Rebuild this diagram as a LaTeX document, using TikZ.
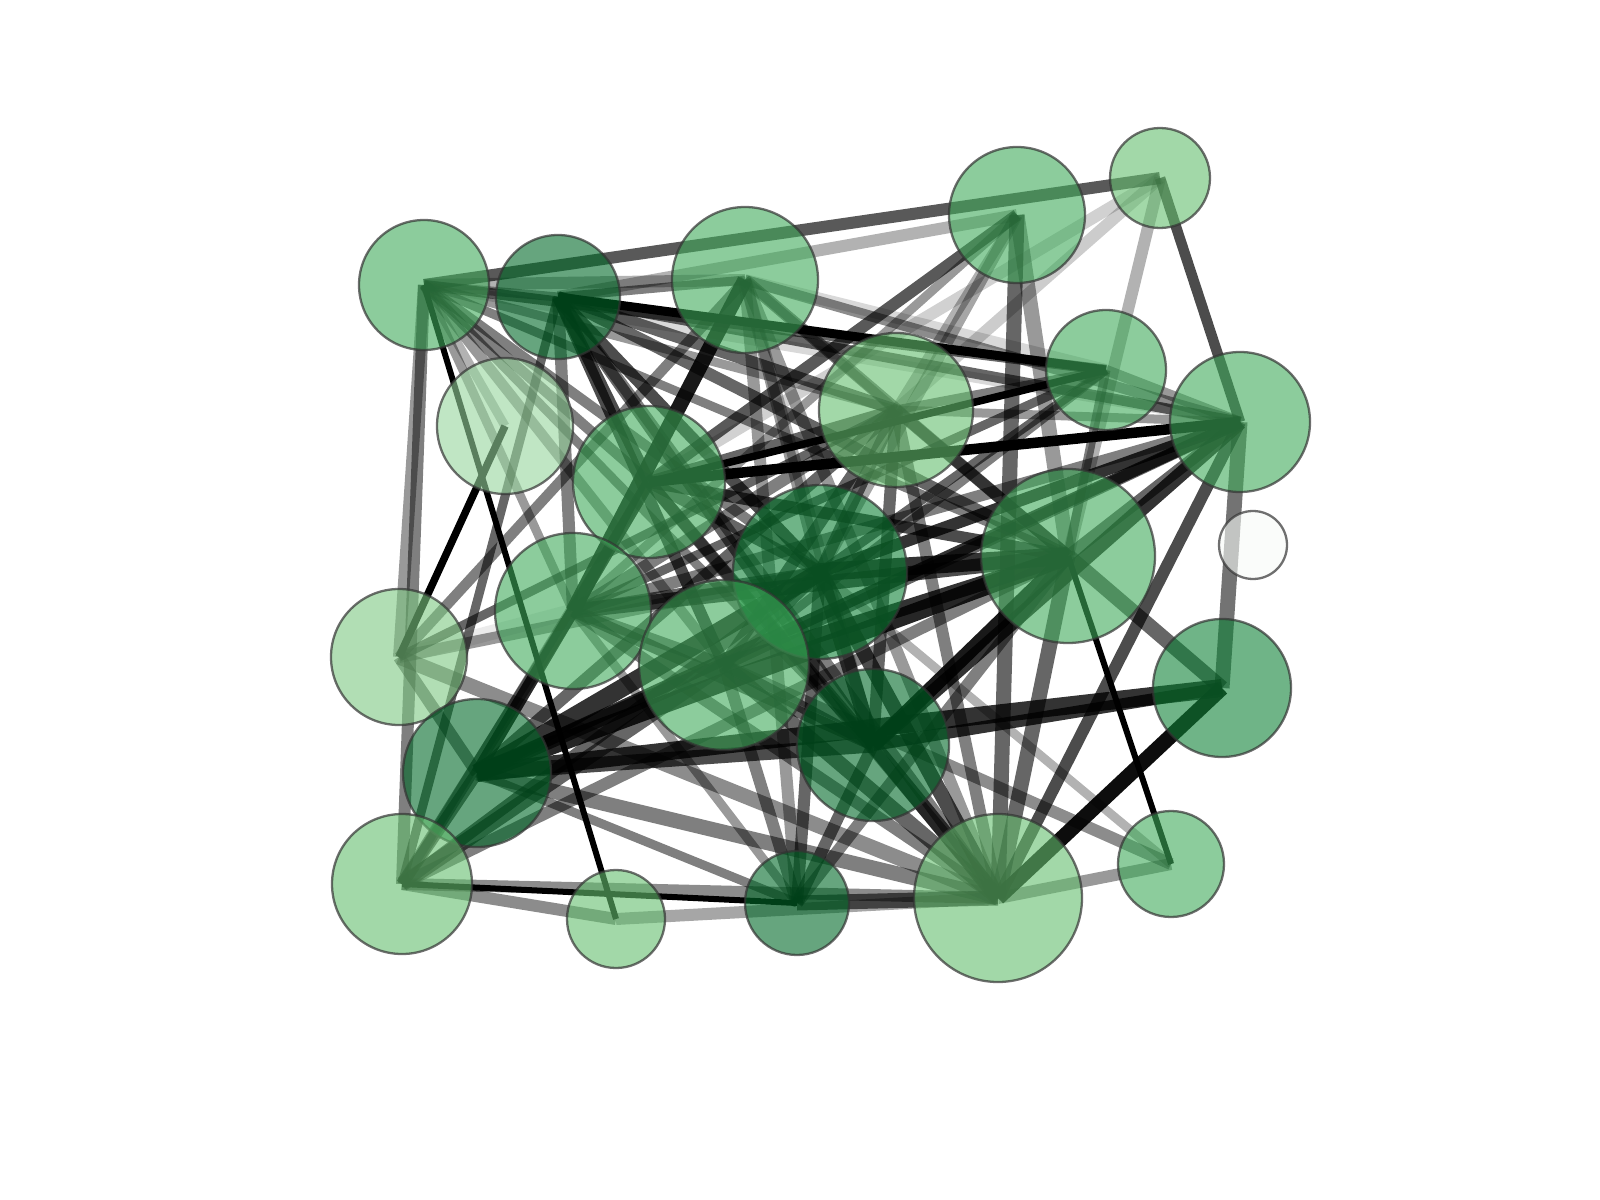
\documentclass[tikz,border=0pt]{standalone}
\usepackage{tikz}

\pgfdeclarelayer{bg}
\pgfsetlayers{bg,main}

\definecolor{gA}{RGB}{63,170,90}
\definecolor{gB}{RGB}{0,105,40}
\definecolor{gC}{RGB}{100,190,110}
\definecolor{gD}{RGB}{150,213,157}
\definecolor{gE}{RGB}{15,130,55}
\definecolor{gF}{RGB}{125,200,130}
\definecolor{gW}{RGB}{247,250,247}

\tikzset{
  vtx/.style={circle, draw=black!80, draw opacity=0.7, line width=1.3pt, fill opacity=0.6, inner sep=0},
  lk/.style 2 args={line width=#1*0.3mm, draw=black, draw opacity=#2}
}

\begin{document}
\begin{tikzpicture}[x=0.2mm, y=-0.2mm]
    \useasboundingbox (0,0) rectangle (1600,1200);

    % nodes: name/x/y/radius/colour
    \foreach \nm/\px/\py/\rr/\cl in {
        a/424/285/65/gA, b/558/297/62/gB, c/745/280/73/gA, d/1017/215/68/gA,
        e/1160/178/50/gC, f/1106/370/60/gA, g/1240/422/70/gA, h/896/410/77/gC,
        i/505/426/68/gD, j/649/482/76/gA, k/820/572/87/gE, l/1068/556/87/gA,
        m/1253/545/34/gW, n/573/611/78/gA, o/399/657/68/gF, p/724/665/85/gA,
        q/1222/688/69/gE, r/873/745/76/gB, s/477/773/74/gB, t/402/884/70/gC,
        u/616/919/49/gC, v/797/903/52/gB, w/998/898/84/gC, x/1171/864/53/gA}
        \node[vtx, fill=\cl, minimum size=\rr*0.4mm] (\nm) at (\px,\py) {};

    % weighted links
    \begin{pgfonlayer}{bg}
    \foreach \na/\nb/\lw/\al in {
        a/e/8/0.65, b/d/8/0.3, a/c/8/0.3, b/c/6/0.5, a/b/6/0.4,
        e/g/7/0.7, e/j/8/0.18, e/l/8/0.3,
        d/j/8/0.65, d/k/8/0.35, d/w/10/0.6, d/l/10/0.4, d/h/7/0.3,
        c/f/8/0.15, b/f/6/1.0, a/f/7/0.6, f/j/5/1.0, g/j/7/1.0,
        b/g/7/0.6, c/g/7/0.45, a/g/7/0.15, f/g/7/0.4, f/h/6/0.5, g/h/6/0.4,
        g/k/8/0.8, g/p/8/0.6, g/s/8/0.8, g/n/8/0.5, g/q/10/0.55,
        g/w/8/0.7, g/r/10/0.8, g/l/8/0.6, f/l/6/0.5, f/k/6/0.6,
        a/o/8/0.4, a/t/8/0.5, a/u/4/1.0, b/t/6/0.6, i/o/5/1.0,
        c/o/7/0.5, c/n/10/0.9, c/v/8/0.4, c/r/8/0.3, c/k/8/0.4,
        c/l/8/0.5, c/w/8/0.4, c/h/6/0.4,
        a/j/7/0.5, a/k/7/0.5, a/h/6/0.4, a/l/6/0.5, a/p/7/0.4,
        a/r/6/0.5, a/n/6/0.4, a/i/6/0.3,
        b/k/8/0.7, b/r/8/0.6, b/l/8/0.6, b/h/8/0.6, b/j/8/0.7,
        b/p/8/0.7, b/n/8/0.5, b/w/8/0.5,
        t/v/4/1.0, t/w/8/0.45, t/u/8/0.45, u/w/8/0.35, v/w/10/0.6,
        w/x/8/0.4, q/w/10/0.95, l/x/4/1.0, l/q/10/0.6, x/p/8/0.45,
        s/q/12/0.8, r/q/8/0.8, s/w/10/0.5, o/w/10/0.45, o/n/10/0.08,
        o/h/6/0.6, o/s/8/0.5, o/k/8/0.4,
        t/s/8/0.6, t/n/8/0.5, t/p/10/0.6, t/k/8/0.6, t/l/8/0.5, t/j/6/0.4,
        s/l/12/0.85, s/k/12/0.8, s/p/10/0.7, s/r/10/0.7, s/h/8/0.6,
        s/j/8/0.6, s/n/8/0.6, s/v/6/0.5,
        k/w/10/0.7, l/w/10/0.6, r/w/10/0.7, p/w/10/0.6, n/w/8/0.5,
        j/w/8/0.5, h/w/8/0.5,
        k/l/12/0.8, j/l/8/0.7, n/l/10/0.7, p/l/10/0.8, h/l/8/0.6,
        k/r/10/0.7, j/k/8/0.6, n/k/8/0.6, k/p/8/0.6, h/k/8/0.6,
        h/j/8/0.6, j/n/8/0.6, n/p/8/0.5, h/p/8/0.6, p/r/8/0.6,
        r/l/10/0.9, r/v/8/0.6, k/v/8/0.6, p/v/8/0.5, n/v/6/0.4,
        l/v/8/0.5, x/k/6/0.3, h/r/8/0.6, j/r/8/0.6, n/r/8/0.6,
        h/n/8/0.5, f/n/6/0.6, f/p/6/0.5, d/n/6/0.4, e/h/8/0.2}
        \draw[lk={\lw}{\al}] (\na.center) -- (\nb.center);
    \end{pgfonlayer}
\end{tikzpicture}
\end{document}
